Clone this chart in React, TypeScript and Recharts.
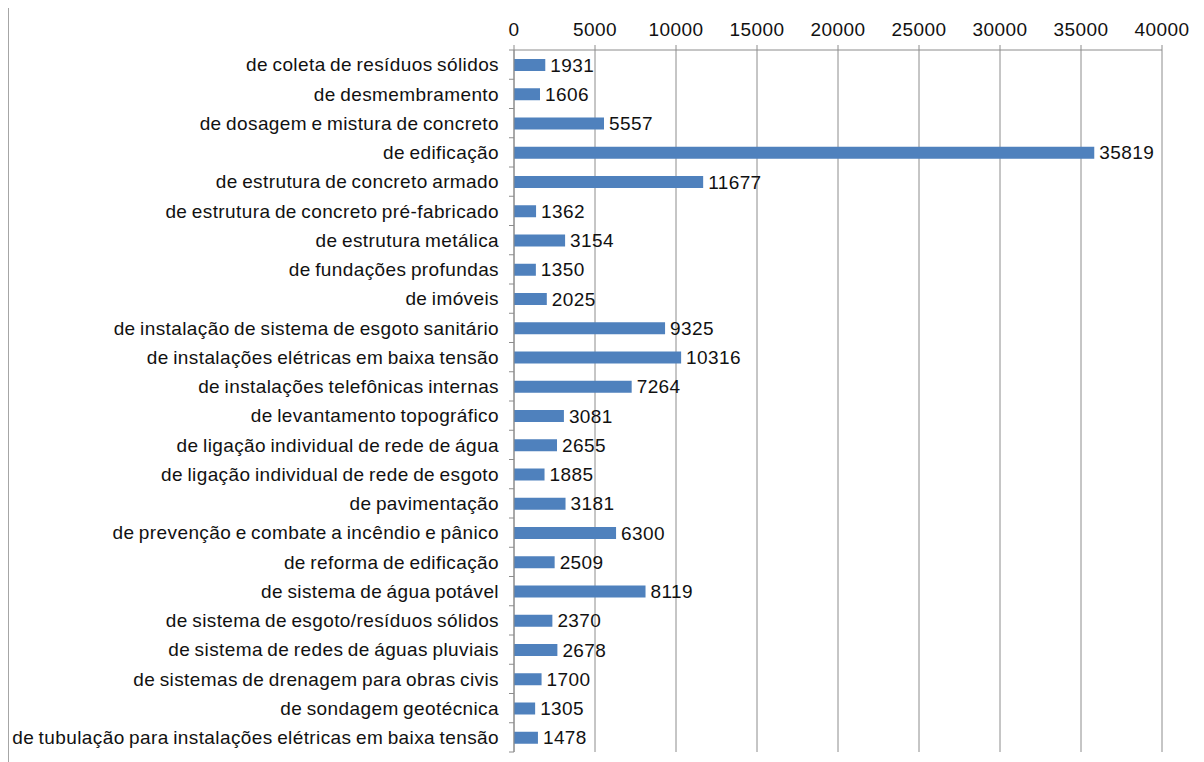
import { BarChart, Bar, XAxis, YAxis, CartesianGrid, LabelList } from "recharts";

const categories = [
  "de coleta de resíduos sólidos",
  "de desmembramento",
  "de dosagem e mistura de concreto",
  "de edificação",
  "de estrutura de concreto armado",
  "de estrutura de concreto pré-fabricado",
  "de estrutura metálica",
  "de fundações profundas",
  "de imóveis",
  "de instalação de sistema de esgoto sanitário",
  "de instalações elétricas em baixa tensão",
  "de instalações telefônicas internas",
  "de levantamento topográfico",
  "de ligação individual de rede de água",
  "de ligação individual de rede de esgoto",
  "de pavimentação",
  "de prevenção e combate a incêndio e pânico",
  "de reforma de edificação",
  "de sistema de água potável",
  "de sistema de esgoto/resíduos sólidos",
  "de sistema de redes de águas pluviais",
  "de sistemas de drenagem para obras civis",
  "de sondagem geotécnica",
  "de tubulação para instalações elétricas em baixa tensão",
];

const values = [
  1931, 1606, 5557, 35819, 11677, 1362, 3154, 1350, 2025, 9325, 10316, 7264,
  3081, 2655, 1885, 3181, 6300, 2509, 8119, 2370, 2678, 1700, 1305, 1478,
];

const xTicks = [0, 5000, 10000, 15000, 20000, 25000, 30000, 35000, 40000];

const data = categories.map((name, i) => ({ name, value: values[i] }));

const FONT = "'Liberation Sans', Arial, sans-serif";
const GRID = "#8c8c8c";
const TEXT = "#111";

const CHART_W = 1183;
const CHART_H = 754;
const MARGIN = { top: 12, right: 30, bottom: 10, left: 15 };
const X_AXIS_H = 30;
const HALF_BAND = (CHART_H - MARGIN.top - MARGIN.bottom - X_AXIS_H) / categories.length / 2;

function CategoryTick(props: any) {
  const { x, y, payload, index } = props;
  const ax = x + 10;
  return (
    <g>
      <line x1={ax} x2={ax + 5} y1={y - HALF_BAND} y2={y - HALF_BAND} stroke={GRID} />
      {index === categories.length - 1 && (
        <line x1={ax} x2={ax + 5} y1={y + HALF_BAND} y2={y + HALF_BAND} stroke={GRID} />
      )}
      <text
        x={x}
        y={y}
        dy="0.355em"
        textAnchor="end"
        fontSize={19}
        fill={TEXT}
        fontFamily={FONT}
        letterSpacing={0.4}
        wordSpacing={-1.2}
      >
        {payload.value}
      </text>
    </g>
  );
}

export default function App() {
  return (
    <div
      style={{
        position: "relative",
        top: -1,
        width: 1193,
        height: 770,
        borderTop: "1px solid #a6a6a6",
        borderLeft: "1px solid #a6a6a6",
        borderRight: "1px solid #d0d0d0",
        background: "#fff",
      }}
    >
      <BarChart
        width={CHART_W}
        height={CHART_H}
        data={data}
        layout="vertical"
        margin={MARGIN}
        barCategoryGap={0}
      >
        <CartesianGrid horizontal={false} stroke={GRID} />
        <XAxis
          type="number"
          orientation="top"
          domain={[0, 40000]}
          ticks={xTicks}
          interval={0}
          height={X_AXIS_H}
          tickSize={5}
          tickMargin={9}
          stroke={GRID}
          tick={{ fontSize: 19, fill: TEXT, fontFamily: FONT, letterSpacing: 0.4 }}
        />
        <YAxis
          type="category"
          dataKey="name"
          width={490}
          interval={0}
          tickSize={5}
          tickMargin={10}
          tickLine={false}
          stroke={GRID}
          tick={<CategoryTick />}
        />
        <Bar dataKey="value" fill="#4F81BD" barSize={12} isAnimationActive={false}>
          <LabelList
            dataKey="value"
            position="right"
            offset={5}
            fontSize={19}
            fill={TEXT}
            fontFamily={FONT}
            letterSpacing={0.4}
          />
        </Bar>
      </BarChart>
    </div>
  );
}
